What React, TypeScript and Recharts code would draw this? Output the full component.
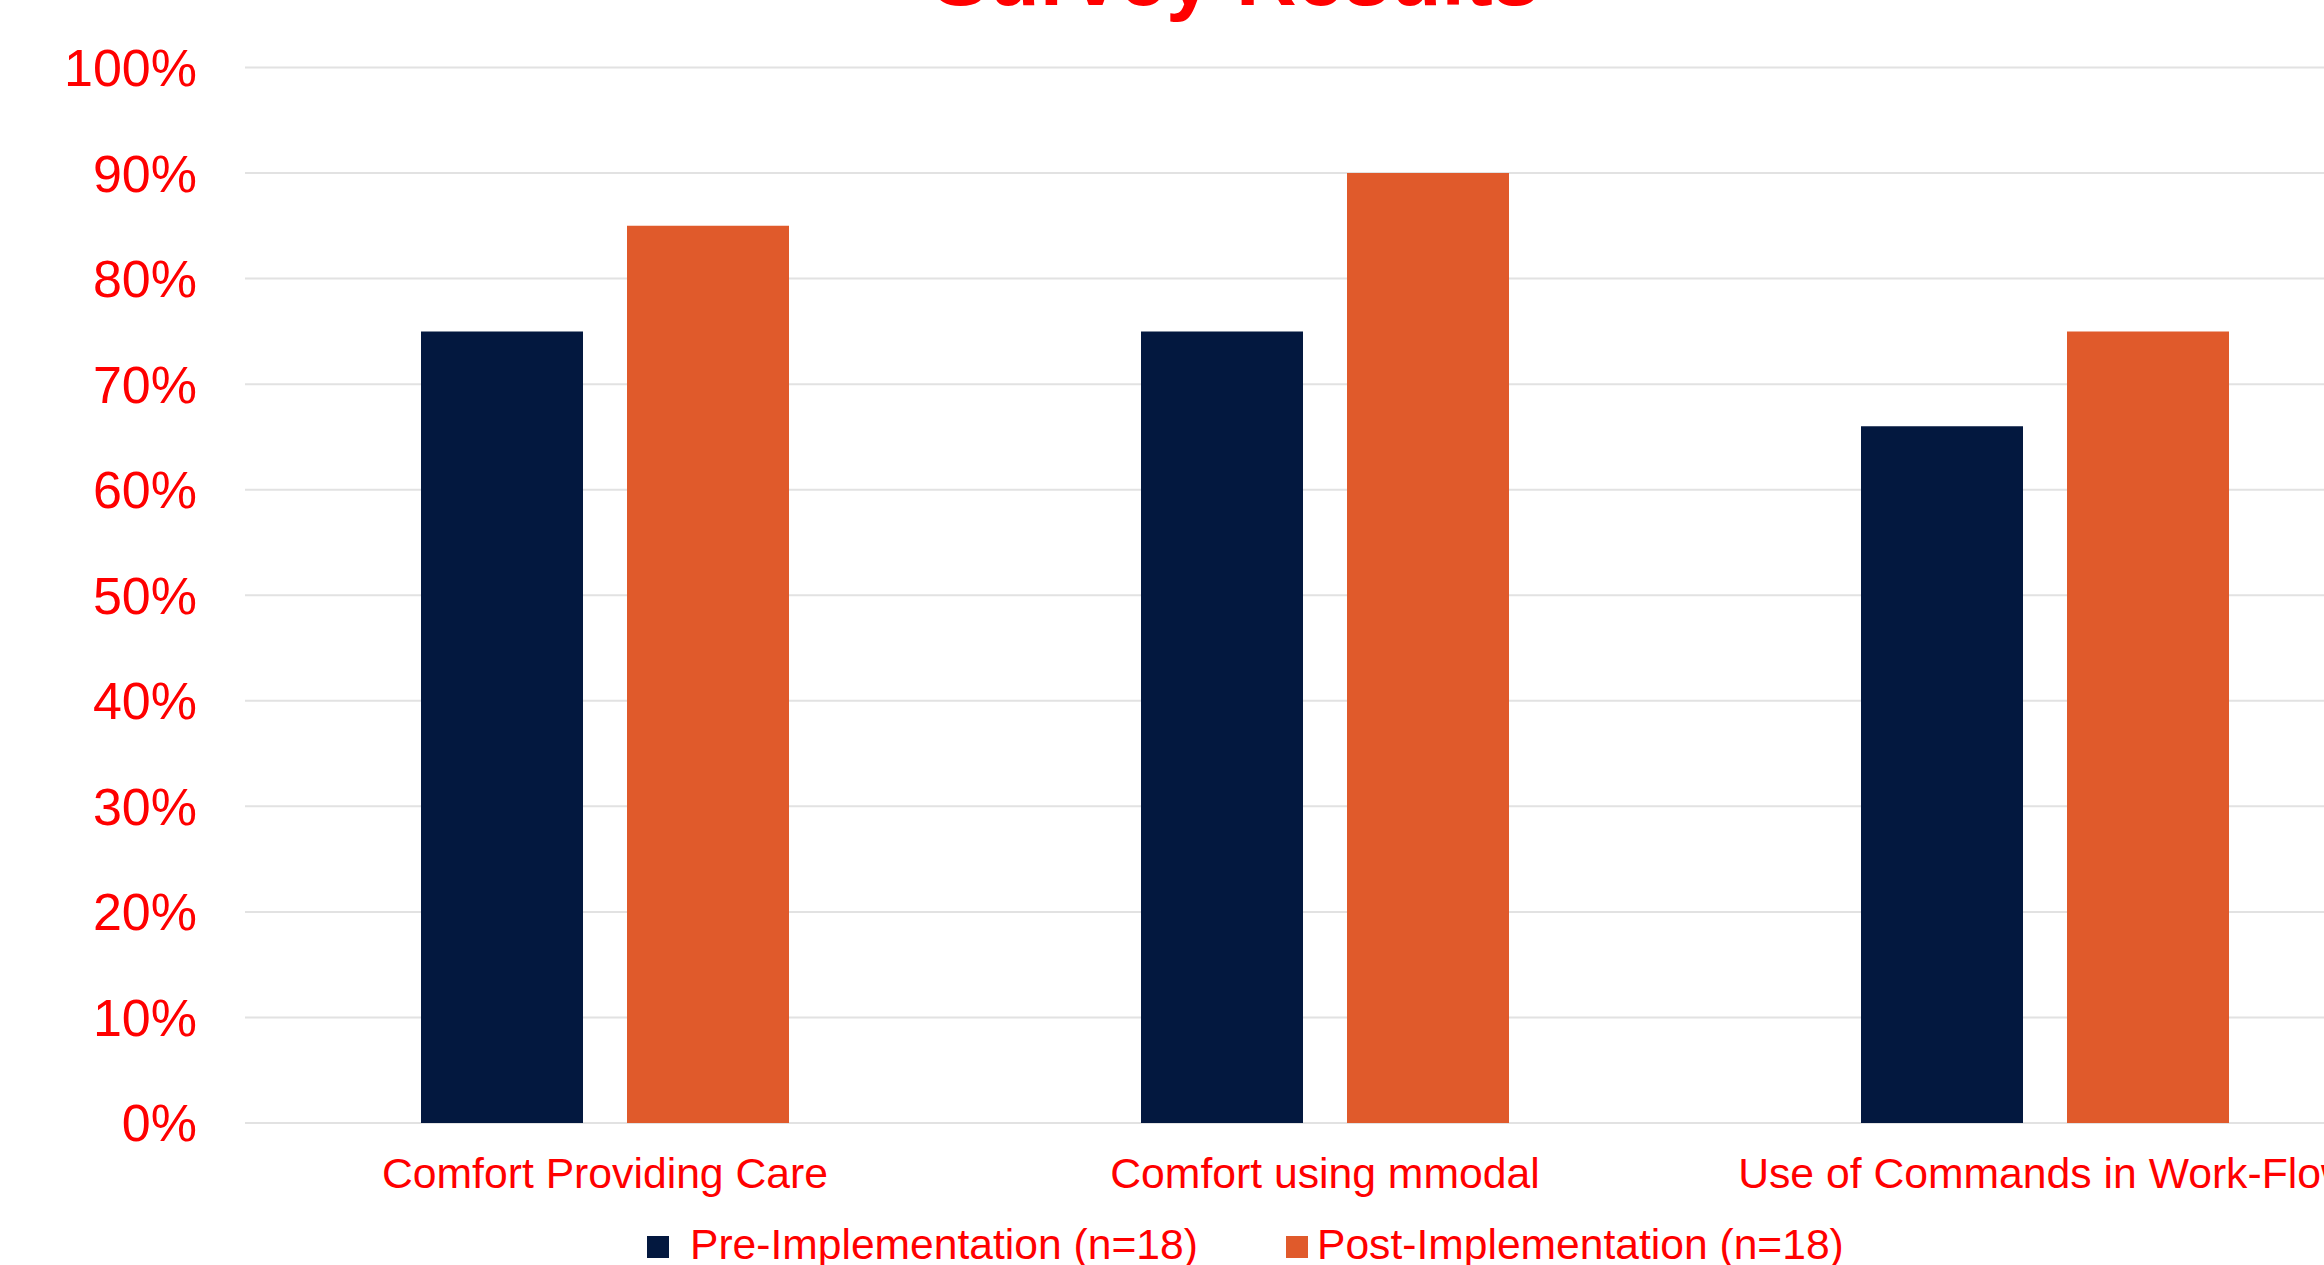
import React from "react";
import { BarChart, Bar, XAxis, YAxis, CartesianGrid } from "recharts";

// survey categories and percentages per group
const categories = ["Comfort Providing Care", "Comfort using mmodal", "Use of Commands in Work-Flow"];
const preValues = [75, 75, 66];
const postValues = [85, 90, 75];
const yTicks = [0, 10, 20, 30, 40, 50, 60, 70, 80, 90, 100];

const seriesNames = ["Pre-Implementation (n=18)", "Post-Implementation (n=18)"];
const seriesColors = ["#03183F", "#E05A2B"];

const data = categories.map((c, i) => ({ name: c, pre: preValues[i], post: postValues[i] }));

const RED = "#FF0000";
const FONT = "'Liberation Sans', Arial, sans-serif";

// legend squares / labels laid out along the bottom row
const legendPos = [
  { box: 647, text: 690 },
  { box: 1286, text: 1317 },
];

export default function App() {
  return (
    <div style={{ position: "fixed", left: 0, top: 0, width: 2324, height: 1265, overflow: "hidden", background: "#fff" }}>
      <BarChart
        width={2405}
        height={1265}
        data={data}
        margin={{ top: 67.5, right: 0, bottom: 0, left: 0 }}
        barCategoryGap={176}
        barGap={44}
      >
        <CartesianGrid vertical={false} stroke="#E2E2E2" strokeWidth={2} />
        <XAxis
          dataKey="name"
          height={142}
          axisLine={false}
          tickLine={false}
          tickSize={0}
          tickMargin={35}
          interval={0}
          tick={{ fill: RED, fontSize: 42.7, fontFamily: FONT }}
        />
        <YAxis
          width={245}
          domain={[0, 100]}
          ticks={yTicks}
          axisLine={false}
          tickLine={false}
          tickSize={0}
          tickMargin={48}
          tickFormatter={(v: number) => `${v}%`}
          tick={{ fill: RED, fontSize: 52, fontFamily: FONT }}
        />
        <Bar dataKey="pre" name={seriesNames[0]} fill={seriesColors[0]} isAnimationActive={false} />
        <Bar dataKey="post" name={seriesNames[1]} fill={seriesColors[1]} isAnimationActive={false} />
      </BarChart>

      {/* title and legend overlay */}
      <svg width={2324} height={1265} style={{ position: "absolute", left: 0, top: 0, pointerEvents: "none" }}>
        <text x={1236} y={5} textAnchor="middle" fill={RED} fontSize={84} fontWeight="bold" fontFamily={FONT}>
          Survey Results
        </text>
        {seriesNames.map((n, i) => (
          <g key={n}>
            <rect x={legendPos[i].box} y={1236} width={22} height={22} fill={seriesColors[i]} />
            <text x={legendPos[i].text} y={1259} fill={RED} fontSize={42.6} fontFamily={FONT}>
              {n}
            </text>
          </g>
        ))}
      </svg>
    </div>
  );
}
